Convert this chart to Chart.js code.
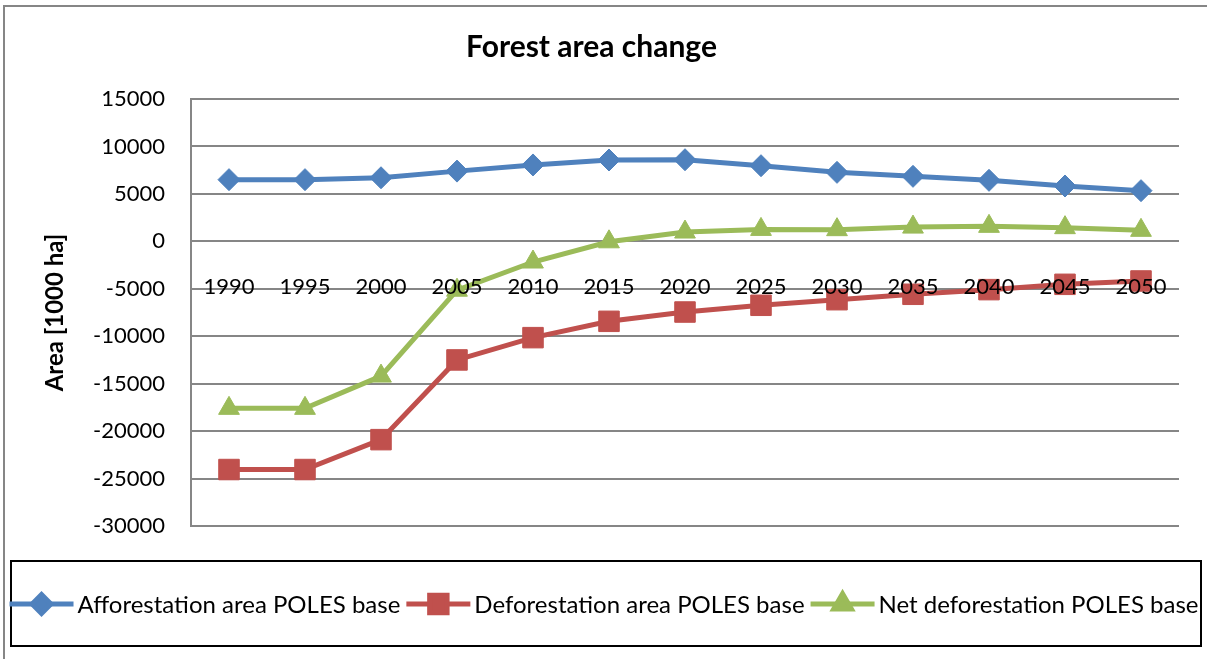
<!DOCTYPE html>
<html>
<head>
<meta charset="utf-8">
<script src="https://cdn.jsdelivr.net/npm/chart.js@4.4.1/dist/chart.umd.min.js"></script>
<style>
  html, body { margin: 0; padding: 0; background: #fff; }
  #wrap { width: 1207px; height: 659px; }
</style>
</head>
<body>
<div id="wrap"><canvas id="chart" width="1207" height="659"></canvas></div>
<script>
// years on the category axis
const years = ['1990', '1995', '2000', '2005', '2010', '2015', '2020', '2025', '2030', '2035', '2040', '2045', '2050'];

// values in 1000 ha
const afforestation = [6500, 6500, 6700, 7400, 8050, 8570, 8600, 7970, 7270, 6850, 6430, 5830, 5340];
const deforestation = [-24050, -24050, -20900, -12500, -10150, -8430, -7450, -6740, -6150, -5580, -5090, -4530, -4180];
const netDeforestation = [-17600, -17600, -14200, -5150, -2180, -50, 980, 1260, 1230, 1500, 1580, 1440, 1160];

const seriesNames = ['Afforestation area POLES base', 'Deforestation area POLES base', 'Net deforestation POLES base'];
const seriesColors = ['#4F81BD', '#C0504D', '#9BBB59'];
const seriesMarkers = ['rectRot', 'rect', 'triangle'];
const markerSizes = [11, 14.5, 12];

const yMin = -30000;
const yMax = 15000;
const yStep = 5000;

const FONT = 'Lato';
const gridGray = '#868686';

// frame round the whole chart + the boxed legend at the bottom
const frameAndLegend = {
  id: 'frameAndLegend',
  afterDraw(chart) {
    const ctx = chart.ctx;
    ctx.save();
    ctx.strokeStyle = gridGray;
    ctx.lineWidth = 2;
    ctx.strokeRect(4, 6, 1220, 670);

    // legend box
    ctx.strokeStyle = '#000';
    ctx.lineWidth = 2;
    ctx.strokeRect(11, 561, 1190, 85);

    ctx.font = '24px ' + FONT;
    ctx.textBaseline = 'middle';
    const lineLen = 64, gapText = 4, gapItem = 6;
    const widths = seriesNames.map(n => ctx.measureText(n).width);
    const total = widths.reduce((a, b) => a + b, 0) + 3 * (lineLen + gapText) + 2 * gapItem;
    let x = 604 - total / 2;
    const cy = 604;
    seriesNames.forEach((name, i) => {
      ctx.strokeStyle = seriesColors[i];
      ctx.fillStyle = seriesColors[i];
      ctx.lineWidth = 5;
      ctx.beginPath();
      ctx.moveTo(x, cy);
      ctx.lineTo(x + lineLen, cy);
      ctx.stroke();
      Chart.helpers.drawPoint(ctx, {
        pointStyle: seriesMarkers[i],
        radius: markerSizes[i] * 0.85,
        rotation: 0,
        borderWidth: 1
      }, x + lineLen / 2, cy);
      ctx.fillStyle = '#000';
      ctx.fillText(name, x + lineLen + gapText, cy + 1);
      x += lineLen + gapText + widths[i] + gapItem;
    });
    ctx.restore();
  }
};

const datasets = [afforestation, deforestation, netDeforestation].map((vals, i) => ({
  label: seriesNames[i],
  data: vals,
  borderColor: seriesColors[i],
  backgroundColor: seriesColors[i],
  borderWidth: 5,
  pointStyle: seriesMarkers[i],
  pointRadius: markerSizes[i],
  pointHoverRadius: markerSizes[i],
  pointBorderWidth: 1,
  pointBorderColor: seriesColors[i],
  pointBackgroundColor: seriesColors[i],
  tension: 0,
  clip: false
}));

new Chart(document.getElementById('chart'), {
  type: 'line',
  data: { labels: years, datasets: datasets },
  options: {
    responsive: false,
    animation: false,
    events: [],
    layout: { padding: { left: 4, right: 28, top: 0, bottom: 133 } },
    plugins: {
      legend: { display: false },
      tooltip: { enabled: false },
      title: {
        display: true,
        text: 'Forest area change',
        color: '#000',
        font: { family: FONT, size: 30, weight: 'bold' },
        padding: { top: 29, bottom: 34 }
      }
    },
    scales: {
      x: {
        type: 'category',
        position: { y: 0 },
        offset: true,
        grid: { display: false, drawTicks: false },
        border: { display: false },
        ticks: {
          z: 1,  // year labels sit on top of the lines, as in the original
          color: '#000',
          font: { family: FONT, size: 22 },
          padding: 32,
          autoSkip: false,
          maxRotation: 0
        }
      },
      y: {
        min: yMin,
        max: yMax,
        afterFit(scale) { scale.width = 187; },
        grid: { color: gridGray, lineWidth: 2, drawTicks: false },
        border: { display: true, color: gridGray, width: 2 },
        ticks: {
          stepSize: yStep,
          color: '#000',
          font: { family: FONT, size: 22 },
          padding: 26,
          callback: v => String(v)
        },
        title: {
          display: true,
          text: 'Area [1000 ha]',
          color: '#000',
          font: { family: FONT, size: 24, weight: 'bold' },
          padding: { top: 37, bottom: 0 }
        }
      }
    }
  },
  plugins: [frameAndLegend]
});
</script>
</body>
</html>
